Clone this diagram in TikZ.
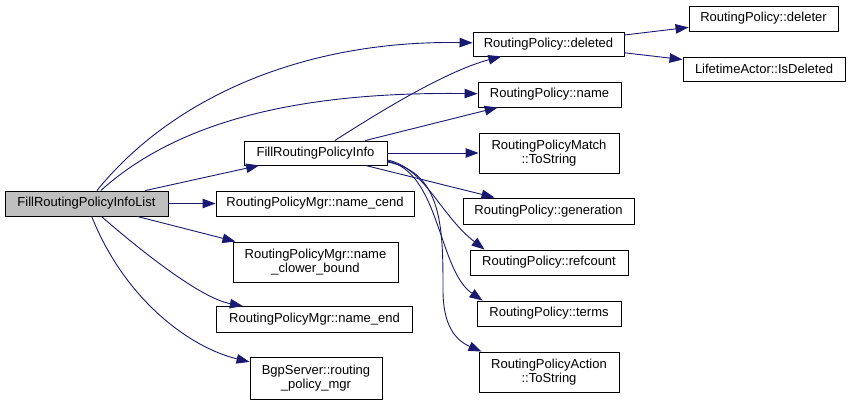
\documentclass[tikz,border=0pt]{standalone}
\usepackage{fontspec}
\setmainfont{Liberation Sans}
\usepackage{tikz}
\usetikzlibrary{arrows.meta}
\definecolor{edgeblue}{HTML}{191970}

\begin{document}
\begin{tikzpicture}[x=1pt, y=-1pt,
    >={Triangle[length=13pt,width=9.5pt]},
    fn/.style={draw=black, line width=0.9pt, inner sep=0pt, align=center,
      font=\fontsize{13}{14.5}\selectfont},
    call/.style={->, edgeblue, line width=0.9pt}
  ]
  \useasboundingbox (0,0) rectangle (851,406);

  % caller and its direct callees
  \node[fn, fill=gray!50, minimum width=163pt, minimum height=25pt] (root) at (86.5,203.5) {FillRoutingPolicyInfoList};
  \node[fn, minimum width=143pt, minimum height=24pt] (frpi)   at (315.5,153) {FillRoutingPolicyInfo};
  \node[fn, minimum width=198pt, minimum height=25pt] (cend)   at (315,203.5) {RoutingPolicyMgr::name\_cend};
  \node[fn, minimum width=165pt, minimum height=40pt] (clower) at (315.5,262) {RoutingPolicyMgr::name\\\_clower\_bound};
  \node[fn, minimum width=196pt, minimum height=26pt] (nend)   at (314.5,319.5) {RoutingPolicyMgr::name\_end};
  \node[fn, minimum width=132pt, minimum height=42pt] (bgp)    at (316,378) {BgpServer::routing\\\_policy\_mgr};

  % third column
  \node[fn, minimum width=151pt, minimum height=24pt] (deleted) at (548.5,44) {RoutingPolicy::deleted};
  \node[fn, minimum width=143pt, minimum height=25pt] (rpname)  at (549.5,94.5) {RoutingPolicy::name};
  \node[fn, minimum width=140pt, minimum height=40pt] (match)   at (549,153) {RoutingPolicyMatch\\::ToString};
  \node[fn, minimum width=171pt, minimum height=26pt] (gen)     at (548.5,211) {RoutingPolicy::generation};
  \node[fn, minimum width=158pt, minimum height=25pt] (refc)    at (549,262.5) {RoutingPolicy::refcount};
  \node[fn, minimum width=144pt, minimum height=25pt] (terms)   at (549,313.5) {RoutingPolicy::terms};
  \node[fn, minimum width=140pt, minimum height=40pt] (action)  at (549,372) {RoutingPolicyAction\\::ToString};

  % last column
  \node[fn, minimum width=149pt, minimum height=25pt] (deleter) at (763.5,18.5) {RoutingPolicy::deleter};
  \node[fn, minimum width=162pt, minimum height=24pt] (isdel)   at (764,69) {LifetimeActor::IsDeleted};

  % calls from the list function
  \draw[call] (root) .. controls (170,100) and (300,40) .. (deleted);
  \draw[call] (root) .. controls (190,110) and (330,92) .. (rpname);
  \draw[call] (root) -- (frpi);
  \draw[call] (root) -- (cend);
  \draw[call] (root) -- (clower);
  \draw[call] (root) .. controls (140,250) and (200,298) .. (nend);
  \draw[call] (root) .. controls (125,300) and (190,347.5) .. (bgp);

  % calls from FillRoutingPolicyInfo
  \draw[call] (frpi) .. controls (390,105) and (450,70) .. (deleted);
  \draw[call] (frpi) -- (rpname);
  \draw[call] (frpi) -- (match);
  \draw[call] (frpi) -- (gen);
  \draw[call] ([yshift=-7pt]frpi.east) .. controls (425,168) and (440,215) .. ([xshift=15pt]refc.north west);
  \draw[call] ([yshift=-8pt]frpi.east) .. controls (440,172) and (438,270) .. ([xshift=6pt]terms.north west);
  \draw[call] ([yshift=-9pt]frpi.east) .. controls (443,172) and (443,230) .. (443,290)
    .. controls (443,325) and (455,340) .. ([xshift=3pt]action.north west);

  % calls from deleted
  \draw[call] (deleted) -- (deleter);
  \draw[call] (deleted) -- (isdel);
\end{tikzpicture}
\end{document}
